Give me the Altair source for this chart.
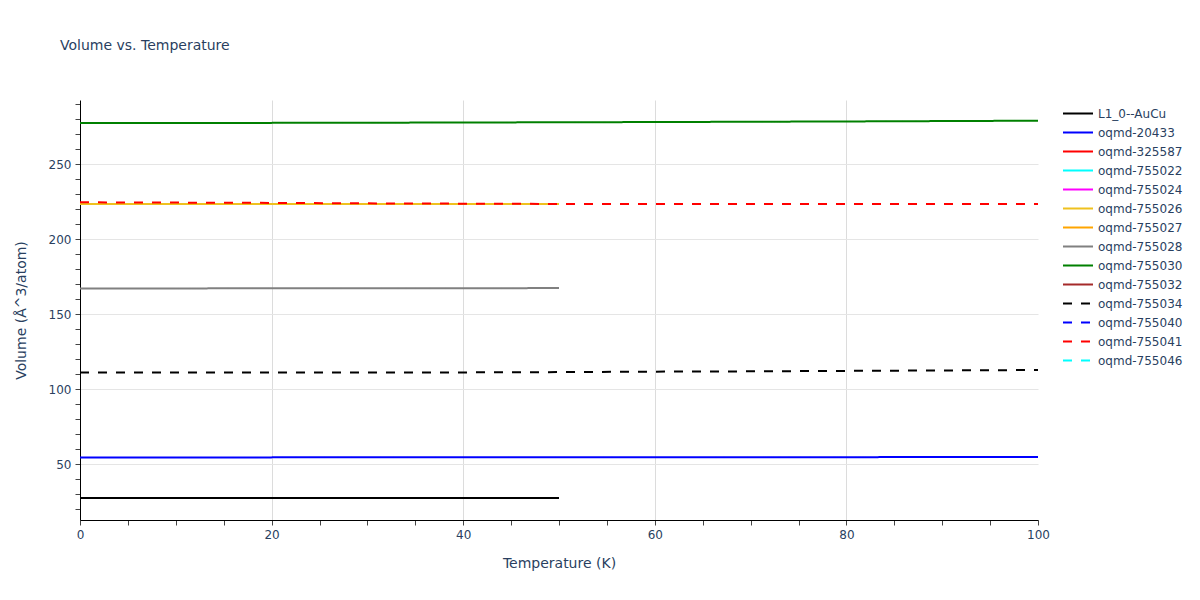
import altair as alt
import pandas as pd

# ---- data ----
series_names = ["L1_0--AuCu", "oqmd-20433", "oqmd-325587", "oqmd-755022", "oqmd-755024",
                "oqmd-755026", "oqmd-755027", "oqmd-755028", "oqmd-755030", "oqmd-755032",
                "oqmd-755034", "oqmd-755040", "oqmd-755041", "oqmd-755046"]
series_colors = ["black", "blue", "red", "cyan", "magenta",
                 "#efc11f", "orange", "gray", "green", "brown",
                 "black", "blue", "red", "cyan"]
series_dashed = [False] * 10 + [True] * 4

t_half = [0, 10, 20, 30, 40, 50]
t_full = [0, 10, 20, 30, 40, 50, 60, 70, 80, 90, 100]

auCu_v = [27.3, 27.3, 27.3, 27.3, 27.3, 27.3]
oqmd20433_v = [54.4, 54.4, 54.45, 54.5, 54.5, 54.5, 54.55, 54.6, 54.6, 54.65, 54.7]
oqmd755026_v = [223.4, 223.4, 223.4, 223.4, 223.4, 223.4]
oqmd755028_v = [167.1, 167.1, 167.15, 167.2, 167.25, 167.3]
oqmd755030_v = [277.3, 277.35, 277.45, 277.55, 277.7, 277.85, 278.0, 278.2, 278.4, 278.65, 278.9]
oqmd755034_v = [111.0, 111.0, 111.0, 111.05, 111.1, 111.3, 111.6, 111.8, 112.1, 112.4, 112.7]
oqmd755041_v = [224.5, 224.3, 224.1, 223.8, 223.6, 223.4, 223.35, 223.3, 223.3, 223.3, 223.3]

y_ticks = list(range(20, 300, 10))
x_ticks = list(range(0, 105, 5))

rows = []
def add(name, ts, vs):
    for t, v in zip(ts, vs):
        rows.append({"series": name, "T": t, "V": v})

add("L1_0--AuCu", t_half, auCu_v)
add("oqmd-20433", t_full, oqmd20433_v)
add("oqmd-755026", t_half, oqmd755026_v)
add("oqmd-755028", t_half, oqmd755028_v)
add("oqmd-755030", t_full, oqmd755030_v)
add("oqmd-755034", t_full, oqmd755034_v)
add("oqmd-755041", t_full, oqmd755041_v)
df = pd.DataFrame(rows)

font = "DejaVu Sans"
txt = "#2a3f5f"

dash_range = [[9, 9] if d else [1, 0] for d in series_dashed]

def make_legend():
    return alt.Legend(orient="none", legendX=982, legendY=5,
                      symbolType="stroke", symbolSize=900,
                      symbolStrokeWidth=2, rowPadding=2, clipHeight=17,
                      labelOffset=4, labelFontSize=12,
                      labelFont=font, labelColor=txt)

chart = alt.Chart(df).mark_line(strokeWidth=2).encode(
    x=alt.X("T:Q", title="Temperature (K)",
            scale=alt.Scale(domain=[0, 100], nice=False, zero=False),
            axis=alt.Axis(values=x_ticks, labelFlush=False,
                          labelExpr="datum.value % 20 === 0 ? datum.label : ''",
                          gridOpacity={"condition": {"test": "datum.value % 20 === 0 && datum.value > 0 && datum.value < 100", "value": 1}, "value": 0},
                          gridColor="#dcdcdc", tickColor="#444", tickSize=5,
                          domainColor="black", labelPadding=4, titlePadding=16)),
    y=alt.Y("V:Q", title="Volume (Å^3/atom)",
            scale=alt.Scale(domain=[12.7, 292.7], nice=False, zero=False),
            axis=alt.Axis(values=y_ticks,
                          labelExpr="datum.value % 50 === 0 ? datum.label : ''",
                          gridOpacity={"condition": {"test": "datum.value % 50 === 0", "value": 1}, "value": 0},
                          gridColor="#e5e5e5", tickColor="#444", tickSize=5,
                          domainColor="black", labelPadding=4, titlePadding=20)),
    color=alt.Color("series:N", title=None,
                    scale=alt.Scale(domain=series_names, range=series_colors),
                    legend=make_legend()),
    strokeDash=alt.StrokeDash("series:N", title=None,
                              scale=alt.Scale(domain=series_names, range=dash_range),
                              legend=make_legend()),
).properties(
    width=958, height=420,
    autosize="none",
    padding={"left": 72, "top": 92, "right": 154, "bottom": 72},
    title=alt.TitleParams("Volume vs. Temperature", anchor="start", frame="group",
                          dx=-20, offset=47, font=font, fontSize=14,
                          fontWeight="normal", color=txt),
).configure_view(stroke=None).configure_axis(
    labelFont=font, labelFontSize=12, labelColor=txt,
    titleFont=font, titleFontSize=14, titleColor=txt, titleFontWeight="normal",
    domainWidth=1, tickWidth=1,
)

chart.save("out.html", embed_options={"renderer": "svg", "actions": False})
